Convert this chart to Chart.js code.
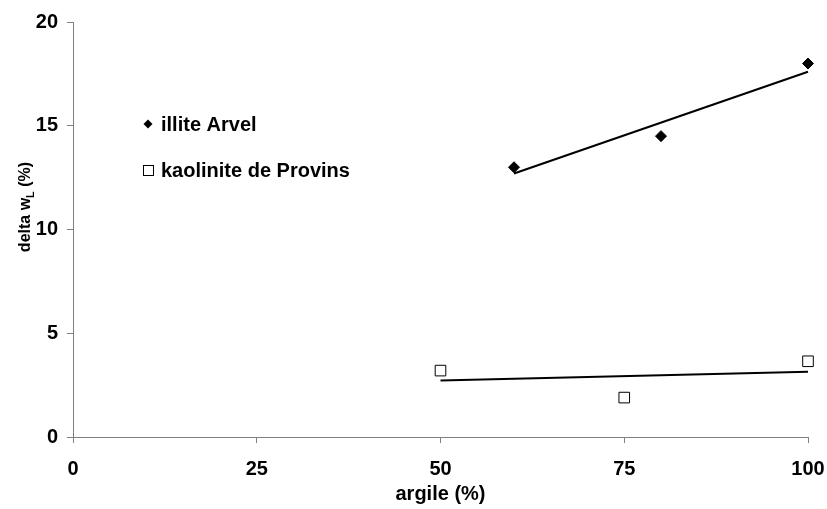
<!DOCTYPE html>
<html>
<head>
<meta charset="utf-8">
<script src="https://cdn.jsdelivr.net/npm/chart.js@4"></script>
<style>
  html, body { margin: 0; padding: 0; background: #fff; }
  #wrap { width: 827px; height: 509px; }
</style>
</head>
<body>
<div id="wrap"><canvas id="chart" width="827" height="509"></canvas></div>
<script>
// valeurs
const argileIllite = [60, 80, 100];
const deltaIllite = [13.0, 14.5, 18.0];
const argileKaol = [50, 75, 100];
const deltaKaol = [3.2, 1.9, 3.65];

// droites de tendance (extrémités)
const trendIlliteX = [60, 100];
const trendIlliteY = [12.7, 17.6];
const trendKaolX = [50, 100];
const trendKaolY = [2.72, 3.15];

const xTicks = [0, 25, 50, 75, 100];
const yTicks = [0, 5, 10, 15, 20];

const seriesNames = ['illite Arvel', 'kaolinite de Provins'];

const toPts = (xs, ys) => xs.map((x, i) => ({ x, y: ys[i] }));

const FAMILY = '"Liberation Sans", Arial, sans-serif';
const FONT = 'bold 20px ' + FAMILY;
const AXIS_GREY = '#808080';

// titres d'axes + légende dessinés à la main (indice "L")
const decorPlugin = {
    id: 'decor',
    afterDraw(chart) {
        const ctx = chart.ctx;
        ctx.save();
        ctx.fillStyle = '#000';

        // titre x
        ctx.font = FONT;
        ctx.textAlign = 'center';
        ctx.textBaseline = 'middle';
        ctx.fillText('argile (%)', chart.scales.x.getPixelForValue(50), 494);

        // titre y avec indice
        ctx.translate(24, 207);
        ctx.rotate(-Math.PI / 2);
        const big = 'bold 16px ' + FAMILY;
        const small = 'bold 11px ' + FAMILY;
        const parts = ['delta w', 'L', ' (%)'];
        ctx.font = big;
        const w0 = ctx.measureText(parts[0]).width;
        const w2 = ctx.measureText(parts[2]).width;
        ctx.font = small;
        const w1 = ctx.measureText(parts[1]).width;
        let x = -(w0 + w1 + w2) / 2;
        ctx.textAlign = 'left';
        ctx.textBaseline = 'alphabetic';
        ctx.font = big;
        ctx.fillText(parts[0], x, 6);
        x += w0;
        ctx.font = small;
        ctx.fillText(parts[1], x, 10);
        x += w1;
        ctx.font = big;
        ctx.fillText(parts[2], x, 6);
        ctx.restore();

        // légende
        ctx.save();
        ctx.font = FONT;
        ctx.textAlign = 'left';
        ctx.textBaseline = 'middle';
        ctx.fillStyle = '#000';
        // losange
        ctx.beginPath();
        ctx.moveTo(148, 119.5);
        ctx.lineTo(152.5, 124);
        ctx.lineTo(148, 128.5);
        ctx.lineTo(143.5, 124);
        ctx.closePath();
        ctx.fill();
        ctx.fillText(seriesNames[0], 161, 125);
        // carré
        ctx.strokeStyle = '#000';
        ctx.lineWidth = 1;
        ctx.strokeRect(143.5, 165.5, 10, 10);
        ctx.fillText(seriesNames[1], 161, 171);
        ctx.restore();
    }
};

new Chart(document.getElementById('chart'), {
    type: 'scatter',
    data: {
        datasets: [
            {
                label: seriesNames[0],
                data: toPts(argileIllite, deltaIllite),
                pointStyle: 'rectRot',
                pointRadius: 5.5,
                backgroundColor: '#000',
                borderColor: '#000',
                borderWidth: 1,
                clip: false,
                order: 1
            },
            {
                label: seriesNames[1],
                data: toPts(argileKaol, deltaKaol),
                pointStyle: 'rect',
                pointRadius: 7.5,
                backgroundColor: '#fff',
                borderColor: '#000',
                borderWidth: 1,
                clip: false,
                order: 1
            },
            {
                type: 'line',
                label: 'tendance illite',
                data: toPts(trendIlliteX, trendIlliteY),
                borderColor: '#000',
                borderWidth: 2,
                pointRadius: 0,
                fill: false,
                clip: false,
                order: 2
            },
            {
                type: 'line',
                label: 'tendance kaolinite',
                data: toPts(trendKaolX, trendKaolY),
                borderColor: '#000',
                borderWidth: 2,
                pointRadius: 0,
                fill: false,
                clip: false,
                order: 2
            }
        ]
    },
    options: {
        responsive: false,
        animation: false,
        layout: { padding: { left: 0, right: 19, top: 22, bottom: 0 } },
        plugins: {
            legend: { display: false },
            tooltip: { enabled: false }
        },
        scales: {
            x: {
                type: 'linear',
                min: 0,
                max: 100,
                afterBuildTicks: s => { s.ticks = xTicks.map(v => ({ value: v })); },
                afterFit: s => { s.height = 72; s.paddingLeft = 0; s.paddingRight = 0; },
                ticks: {
                    color: '#000',
                    font: { family: FAMILY, size: 20, weight: 'bold' },
                    padding: 14,
                    maxRotation: 0
                },
                grid: { drawOnChartArea: false, drawTicks: true, tickLength: 6, color: AXIS_GREY },
                border: { color: AXIS_GREY, width: 1 }
            },
            y: {
                type: 'linear',
                min: 0,
                max: 20,
                afterBuildTicks: s => { s.ticks = yTicks.map(v => ({ value: v })); },
                afterFit: s => { s.width = 73; s.paddingTop = 0; s.paddingBottom = 0; },
                ticks: {
                    color: '#000',
                    font: { family: FAMILY, size: 20, weight: 'bold' },
                    padding: 9
                },
                grid: { drawOnChartArea: false, drawTicks: true, tickLength: 6, color: AXIS_GREY },
                border: { color: AXIS_GREY, width: 1 }
            }
        }
    },
    plugins: [decorPlugin]
});
</script>
</body>
</html>
